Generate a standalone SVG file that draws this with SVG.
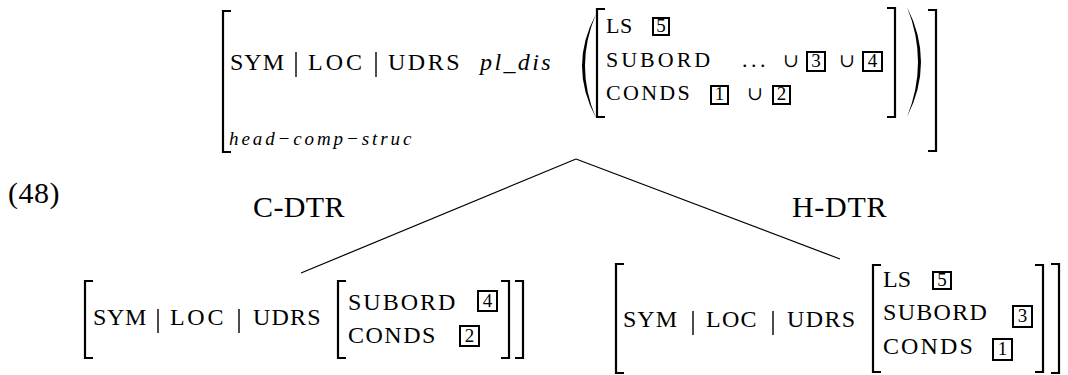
<svg xmlns="http://www.w3.org/2000/svg" width="1068" height="375" viewBox="0 0 1068 375">
<style>
text{font-family:"Liberation Serif","Times New Roman",serif;fill:#000}
.t{font-size:24px}
.s{font-size:22px}
.it{font-style:italic}
.u{font-family:"DejaVu Serif",serif;font-size:19px}
.d{font-size:19px;text-anchor:middle}
.big{font-size:30px}
.br{fill:none;stroke:#000;stroke-width:2.2}
.bx{fill:none;stroke:#000;stroke-width:2}
.bar{stroke:#000;stroke-width:1.4}
.ln{stroke:#000;stroke-width:1.2;fill:none}
</style>
<rect width="1068" height="375" fill="#fff"/>

<g id="example-number">
<text class="big" x="8" y="203" font-size="28" letter-spacing="0.5">(48)</text>
</g>

<g id="root">
<path class="br" d="M231,11 H223 V152 H231"/>
<text class="t" x="230" y="70" letter-spacing="1">SYM</text>
<line class="bar" x1="296" y1="52" x2="296" y2="77"/>
<text class="t" x="308" y="70" letter-spacing="3">LOC</text>
<line class="bar" x1="376" y1="52" x2="376" y2="77"/>
<text class="t" x="388" y="70" letter-spacing="2.5">UDRS</text>
<text class="t it" x="480" y="70" font-size="26" letter-spacing="2.4">pl_dis</text>
<path d="M596,14 Q568,66 596,118 Q574,66 596,14 Z" fill="#000"/>
<path class="br" d="M605,9 H597 V117 H605"/>
<text class="s" x="606" y="33" letter-spacing="0.5">LS</text>
<rect class="bx" x="653" y="18" width="16" height="17"/>
<text class="d" x="661" y="32">5</text>
<text class="s" x="606" y="67" letter-spacing="3">SUBORD</text>
<text class="s" x="742" y="67" letter-spacing="3.5">...</text>
<text class="u" x="783" y="67">∪</text>
<rect class="bx" x="807" y="52" width="18" height="19"/>
<text class="d" x="816" y="67">3</text>
<text class="u" x="839" y="67">∪</text>
<rect class="bx" x="863" y="52" width="19" height="19"/>
<text class="d" x="872.5" y="67">4</text>
<text class="s" x="606" y="100" letter-spacing="2.3">CONDS</text>
<rect class="bx" x="711" y="86" width="17" height="18"/>
<text class="d" x="719.5" y="100">1</text>
<text class="u" x="747" y="100">∪</text>
<rect class="bx" x="773" y="86" width="17" height="18"/>
<text class="d" x="781.5" y="100">2</text>
<path class="br" d="M887,8 H895 V117 H887"/>
<path d="M907,7 Q935,62 907,117 Q929,62 907,7 Z" fill="#000"/>
<path class="br" d="M928,10 H936 V151 H928"/>
<text class="it" x="229" y="145" font-size="19" letter-spacing="2.9">head−comp−struc</text>
</g>

<g id="connectors">
<line class="ln" x1="576" y1="159" x2="301" y2="273"/>
<line class="ln" x1="576" y1="159" x2="840" y2="259"/>
</g>

<g id="edge-labels">
<text class="big" x="253" y="217" letter-spacing="0.4">C-DTR</text>
<text class="big" x="792" y="217" letter-spacing="0.7">H-DTR</text>
</g>

<g id="c-dtr">
<path class="br" d="M93,281 H85 V358 H93"/>
<text class="t" x="93" y="325" letter-spacing="0.7">SYM</text>
<line class="bar" x1="158" y1="309" x2="158" y2="333"/>
<text class="t" x="170" y="325" letter-spacing="2.7">LOC</text>
<line class="bar" x1="239" y1="309" x2="239" y2="333"/>
<text class="t" x="253" y="325" letter-spacing="1.2">UDRS</text>
<path class="br" d="M346,281 H338 V358 H346"/>
<text class="t" x="348" y="310" letter-spacing="2">SUBORD</text>
<rect class="bx" x="478" y="291" width="19" height="20"/>
<text class="d" x="487.5" y="307">4</text>
<text class="t" x="348" y="343" letter-spacing="1.5">CONDS</text>
<rect class="bx" x="460" y="326" width="19" height="20"/>
<text class="d" x="469.5" y="342">2</text>
<path class="br" d="M501,281 H509 V358 H501"/>
<path class="br" d="M515,281 H523 V358 H515"/>
</g>

<g id="h-dtr">
<path class="br" d="M624,264 H616 V373 H624"/>
<text class="t" x="623" y="327" letter-spacing="1">SYM</text>
<line class="bar" x1="693" y1="311" x2="693" y2="335"/>
<text class="t" x="706" y="327" letter-spacing="1.3">LOC</text>
<line class="bar" x1="773" y1="311" x2="773" y2="335"/>
<text class="t" x="787" y="327" letter-spacing="1.4">UDRS</text>
<path class="br" d="M881,265 H873 V372 H881"/>
<text class="t" x="883" y="287">LS</text>
<rect class="bx" x="933" y="272" width="18" height="17"/>
<text class="d" x="942" y="286">5</text>
<text class="t" x="883" y="320" letter-spacing="1.3">SUBORD</text>
<rect class="bx" x="1013" y="306" width="19" height="21"/>
<text class="d" x="1022.5" y="322">3</text>
<text class="t" x="883" y="354" letter-spacing="2.1">CONDS</text>
<rect class="bx" x="993" y="339" width="19" height="21"/>
<text class="d" x="1002.5" y="355">1</text>
<path class="br" d="M1035,265 H1043 V372 H1035"/>
<path class="br" d="M1051,264 H1059 V373 H1051"/>
</g>
</svg>
